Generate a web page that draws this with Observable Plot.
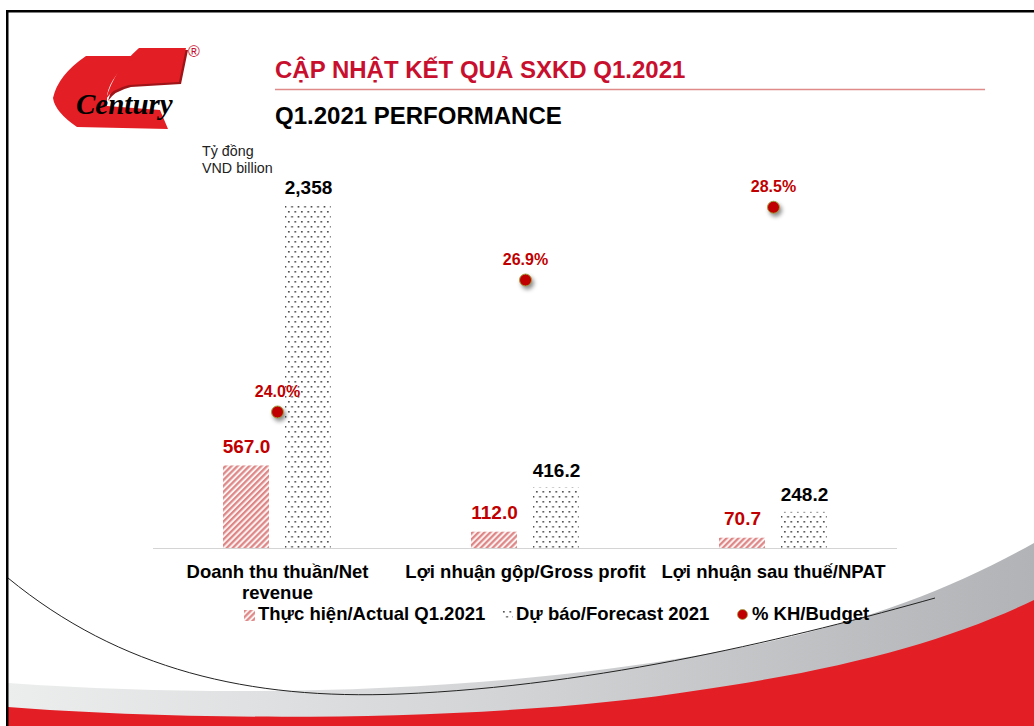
<!DOCTYPE html>
<html>
<head>
<meta charset="utf-8">
<script src="https://cdn.jsdelivr.net/npm/d3@7"></script>
<script src="https://cdn.jsdelivr.net/npm/@observablehq/plot@0.6"></script>
<style>
  html, body { margin: 0; padding: 0; background: #fff; }
  #slide { position: relative; width: 1034px; height: 726px; overflow: hidden; background: #fff; font-family: "Liberation Sans", Arial, sans-serif; }
  .abs { position: absolute; white-space: nowrap; }
  #chart { position: absolute; left: 0; top: 0; }
  #chart svg [aria-label="dot"] circle { filter: drop-shadow(2px 3px 2px rgba(0,0,0,0.45)); }
  .leg { position: absolute; top: 603px; font-size: 18.5px; font-weight: bold; color: #000; line-height: 22px; white-space: nowrap; }
</style>
</head>
<body>
<div id="slide">
  <svg width="0" height="0" style="position:absolute">
    <defs>
      <pattern id="hatch" patternUnits="userSpaceOnUse" width="4.2" height="4.2" patternTransform="rotate(45)">
        <rect x="0" y="0" width="4.2" height="4.2" fill="#fdf3f3"></rect>
        <rect x="0" y="0" width="2.2" height="4.2" fill="#de8686"></rect>
      </pattern>
      <pattern id="dots" patternUnits="userSpaceOnUse" width="6.5" height="10">
        <rect x="1" y="1" width="1.6" height="1.6" fill="#444"></rect>
        <rect x="4.25" y="6" width="1.6" height="1.6" fill="#444"></rect>
      </pattern>
      <linearGradient id="grayband" x1="0" x2="1" y1="0" y2="0">
        <stop offset="0" stop-color="#eceded"></stop>
        <stop offset="0.5" stop-color="#d2d3d5"></stop>
        <stop offset="1" stop-color="#b1b3b6"></stop>
      </linearGradient>
    </defs>
  </svg>

  <!-- slide decorations -->
  <svg class="abs" style="left:0;top:0" width="1034" height="726">
    <path d="M8,683 C250,700 500,690 700,655 C850,630 950,590 1034,543 L1034,726 L8,726 Z" fill="url(#grayband)"></path>
    <path d="M8,707 C200,722 500,722 700,690 C850,668 950,640 1034,600 L1034,726 L8,726 Z" fill="#e31e24"></path>
    <path d="M8,578 C120,670 250,700 400,694 C600,686 800,636 935,598" fill="none" stroke="#222" stroke-width="1"></path>
    <rect x="6" y="10" width="1030" height="2.5" fill="#000"></rect>
    <rect x="6" y="10" width="2.5" height="716" fill="#000"></rect>
    <line x1="275" y1="89.5" x2="985" y2="89.5" stroke="#e08a8a" stroke-width="1.5"></line>
    <!-- logo -->
    <path d="M141,50 L188,50 L181,84 L131,87 Q114,91 108,101 Q116,72 141,50 Z" fill="#9e1418"></path>
    <path d="M139,48 L186,48 L179,82 L129,85 Q112,89 106,99 Q114,70 139,48 Z" fill="#e31e24"></path>
    <path d="M86,56 L138,56 Q111,74 107,95 L107,106 L160,110 L168,129 L77,127 Q55,112 53,98 Q58,75 86,56 Z" fill="#e31e24"></path>
    <text x="76" y="114" font-family="Liberation Serif, Times New Roman, serif" font-style="italic" font-weight="bold" font-size="29" fill="#000">Century</text>
    <text x="188" y="57" font-family="Liberation Sans, Arial, sans-serif" font-size="16" fill="#c8102e">®</text>
  </svg>

  <div class="abs" style="left:275px;top:56px;font-size:24px;font-weight:bold;color:#c8102e;">CẬP NHẬT KẾT QUẢ SXKD Q1.2021</div>
  <div class="abs" style="left:275px;top:102px;font-size:24px;font-weight:bold;color:#000;">Q1.2021 PERFORMANCE</div>
  <div class="abs" style="left:202px;top:143px;font-size:14.3px;color:#222;line-height:16.5px;">Tỷ đồng<br>VND billion</div>

  <div id="chart"></div>

  <div class="leg" style="left:244px;"><svg width="11" height="11" style="vertical-align:-1px;margin-right:3px"><rect width="11" height="11" fill="url(#hatch)"></rect></svg>Thực hiện/Actual Q1.2021</div>
  <div class="leg" style="left:502px;"><svg width="11" height="11" style="vertical-align:-1px;margin-right:3px"><rect width="11" height="11" fill="url(#dots)"></rect></svg>Dự báo/Forecast 2021</div>
  <div class="leg" style="left:736px;"><svg width="13" height="13" style="vertical-align:-1px;margin-right:3px"><circle cx="6.5" cy="6.5" r="5" fill="#c00000" stroke="#a0a040" stroke-width="0.8"></circle></svg>% KH/Budget</div>
</div>

<script>
// ---- data ----
const categories = ["Doanh thu thuần/Net revenue", "Lợi nhuận gộp/Gross profit", "Lợi nhuận sau thuế/NPAT"];
const categoryLabels = ["Doanh thu thuần/Net\nrevenue", "Lợi nhuận gộp/Gross profit", "Lợi nhuận sau thuế/NPAT"];
const seriesNames = ["Thực hiện/Actual Q1.2021", "Dự báo/Forecast 2021"];
const actual = [567.0, 112.0, 70.7];
const forecast = [2358, 416.2, 248.2];
const budgetPct = [0.240, 0.269, 0.285];
const actualLabels = ["567.0", "112.0", "70.7"];
const forecastLabels = ["2,358", "416.2", "248.2"];
const pctLabels = ["24.0%", "26.9%", "28.5%"];
const yDomain = [0, 2500];
const y2Domain = [0.21, 0.29];

// secondary axis (percent) projected onto the primary value axis
const toPrimary = d3.scaleLinear().domain(y2Domain).range(yDomain);

const actualRows = categories.map((c, i) => ({cat: c, series: seriesNames[0], value: actual[i], label: actualLabels[i]}));
const forecastRows = categories.map((c, i) => ({cat: c, series: seriesNames[1], value: forecast[i], label: forecastLabels[i]}));
const budgetRows = categories.map((c, i) => ({cat: c, pct: budgetPct[i], y: toPrimary(budgetPct[i]), label: pctLabels[i]}));

const chart = Plot.plot({
  width: 1034,
  height: 600,
  marginLeft: 152,
  marginRight: 136,
  marginTop: 184,
  marginBottom: 52,
  style: {fontFamily: "Liberation Sans, Arial, sans-serif", background: "transparent", overflow: "visible"},
  fx: {domain: categories, padding: 0, axis: null},
  x: {domain: seriesNames, paddingInner: 0.254, paddingOuter: 1.1, axis: null},
  y: {domain: yDomain, axis: null},
  marks: [
    Plot.barY(actualRows, {fx: "cat", x: "series", y: "value", fill: "url(#hatch)"}),
    Plot.barY(forecastRows, {fx: "cat", x: "series", y: "value", fill: "url(#dots)"}),
    Plot.ruleY([0], {stroke: "#d4d4d4", strokeWidth: 1}),
    Plot.text(actualRows, {fx: "cat", x: "series", y: "value", text: "label", dy: -19, fill: "#c00000", fontSize: 19, fontWeight: "bold"}),
    Plot.text(forecastRows, {fx: "cat", x: "series", y: "value", text: "label", dy: -17, fill: "#000", fontSize: 19, fontWeight: "bold"}),
    Plot.dot(budgetRows, {fx: "cat", y: "y", r: 6, fill: "#c00000", stroke: "#a0a040", strokeWidth: 1}),
    Plot.text(budgetRows, {fx: "cat", y: "y", text: "label", dy: -20, fill: "#c00000", fontSize: 16, fontWeight: "bold"}),
    Plot.text(categories, {fx: d => d, text: (d, i) => categoryLabels[i], frameAnchor: "bottom", lineAnchor: "top", dy: 14, fontSize: 18.5, fontWeight: "bold", fill: "#000", lineHeight: 1.15})
  ]
});
document.getElementById("chart").appendChild(chart);
</script>
</body>
</html>
